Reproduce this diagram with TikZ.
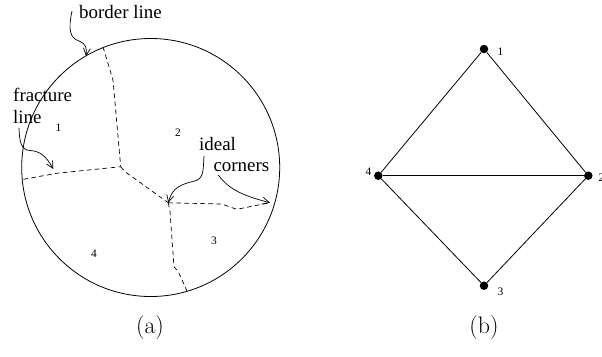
\documentclass[tikz,border=0pt]{standalone}
\usepackage{fontspec}
\newfontfamily\tms{Liberation Serif}
\usetikzlibrary{arrows.meta}
\tikzset{
  lbl/.style={font=\tms\fontsize{19}{21}\selectfont, inner sep=0pt, anchor=base west},
  num/.style={font=\tms\fontsize{11.5}{13}\selectfont, inner sep=0pt},
  subcap/.style={font=\fontsize{24}{26}\selectfont, inner sep=0pt},
  fract/.style={dash pattern=on 4.5bp off 3.5bp, line width=0.7bp},
  pointer/.style={line width=0.7bp, -{Straight Barb[length=7bp,width=7bp]}},
  vtx/.style={circle, fill=black, inner sep=0pt, minimum size=8.5bp},
  edge/.style={line width=0.8bp}
}
\begin{document}
\begin{tikzpicture}[x=1bp,y=-1bp]
\useasboundingbox (0,0) rectangle (602,356);
% (a) disc
\node[circle, draw, line width=0.8bp, minimum size=258bp, inner sep=0pt] (disc) at (150.7,167.5) {};
% fracture lines
\coordinate (c) at (120.7,166.7);
\coordinate (k) at (168.3,202.8);
\coordinate (t) at (103,47);
\coordinate (l) at (23.5,179.3);
\coordinate (r) at (270,202.7);
\coordinate (b) at (187,291);
\draw[fract] (t) -- (113,80) -- (c);
\draw[fract] (l) -- (56.7,173.3) -- (c);
\draw[fract] (c) -- (125,171.7) -- (k);
\draw[fract] (k) -- (221.7,204) -- (236.7,209.3) -- (r);
\draw[fract] (k) -- (170,211.7) -- (174,266.7) -- (178.3,271.7) -- (b);
% labels
\node[lbl] (bl) at (79,18) {border line};
\node[lbl] (fr) at (13,101.7) {fracture};
\node[lbl] (fl) at (13,123.3) {line};
\node[lbl] (id) at (199,150) {ideal};
\node[lbl] (co) at (213.3,171.7) {corners};
\node[num] (n1) at (58.5,127.5) {1};
\node[num] (n2) at (178,133) {2};
\node[num] (n3) at (214,241) {3};
\node[num] (n4) at (94,254) {4};
% pointers
\coordinate (bs) at (72,11);
\coordinate (bt) at (86,56);
\draw[pointer] (bs) .. controls (68,30) and (70,38) .. (79,41) .. controls (86,44) and (87,48) .. (bt);
\coordinate (fs) at (19,128);
\coordinate (ft) at (53.3,169);
\draw[pointer] (fs) .. controls (19.5,142) and (21,150) .. (30,150.5) .. controls (40,151) and (46,156) .. (ft);
\coordinate (is) at (204,156);
\draw[pointer] (is) .. controls (203,172) and (204,179) .. (193,181.5) .. controls (176,185) and (171,192) .. (k);
\coordinate (cs) at (218.3,175);
\draw[pointer] (cs) .. controls (228,188) and (240,195) .. (r);
\node[subcap] (ca) at (150,328) {(a)};
% (b) graph
\node[vtx] (v1) at (484,49) {};
\node[vtx] (v2) at (588.3,175.7) {};
\node[vtx] (v3) at (484,285.7) {};
\node[vtx] (v4) at (378.3,175.7) {};
\draw[edge] (v1) -- (v2);
\draw[edge] (v1) -- (v4);
\draw[edge] (v4) -- (v2);
\draw[edge] (v4) -- (v3);
\draw[edge] (v3) -- (v2);
\node[num] (l1) at (500.5,52) {1};
\node[num] (l2) at (601.5,178) {2};
\node[num] (l3) at (500.5,292) {3};
\node[num] (l4) at (368.5,172) {4};
\node[subcap] (cb) at (484,328) {(b)};
\end{tikzpicture}
\end{document}
